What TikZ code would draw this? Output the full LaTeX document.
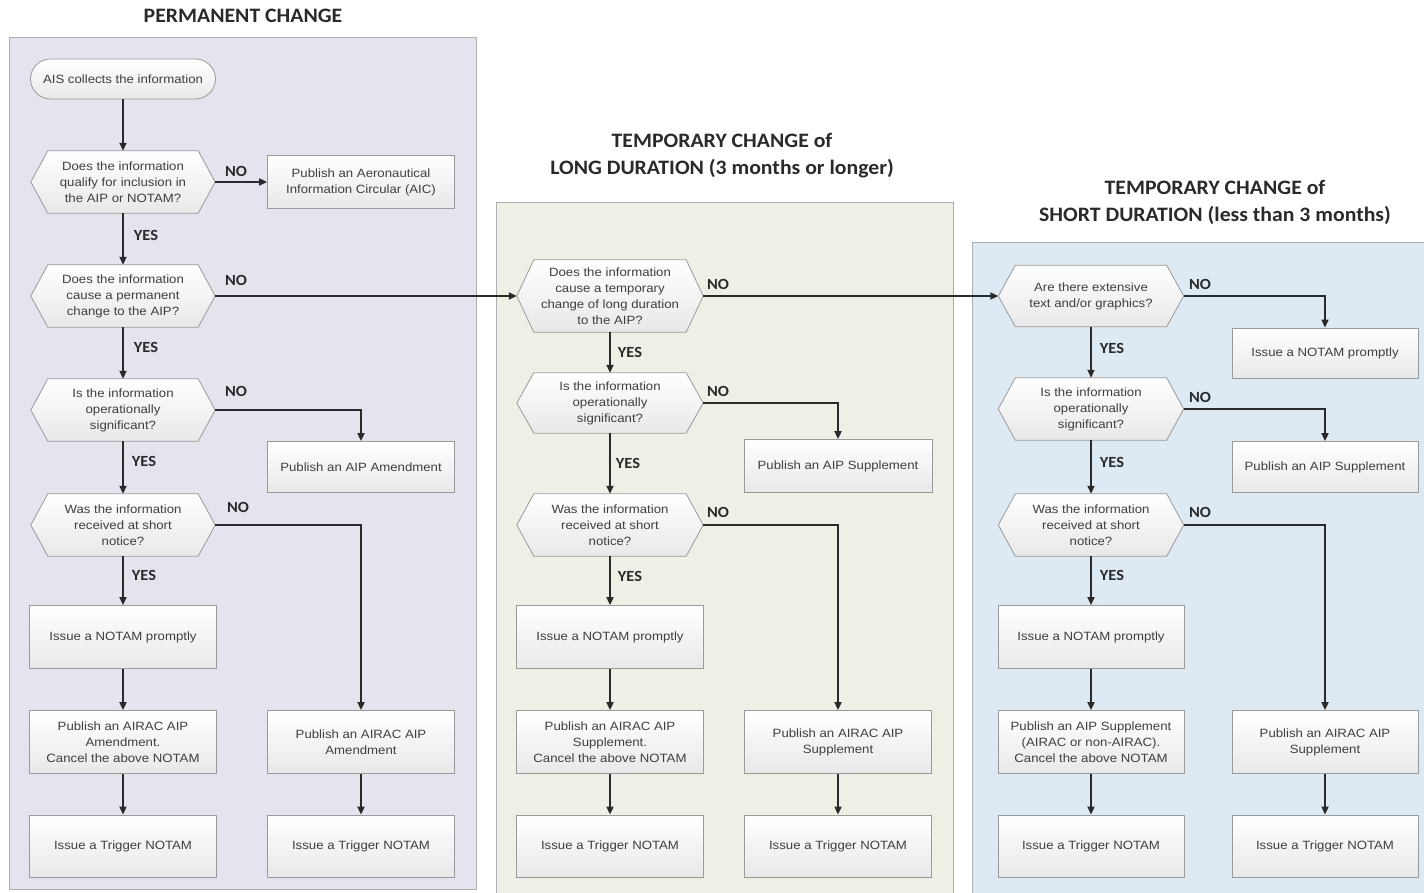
\documentclass[tikz,border=0pt]{standalone}
\usepackage{fontspec}
\setmainfont{Liberation Sans}
\newfontfamily\boxfont[FakeStretch=1.1]{Liberation Sans}
\newfontfamily\titlefont[FakeStretch=1.06]{Carlito}
\usetikzlibrary{arrows.meta}
\pgfdeclarelayer{bg}
\pgfdeclarelayer{mid}
\pgfsetlayers{bg,mid,main}
\definecolor{panelA}{HTML}{E6E2EE}
\definecolor{panelB}{HTML}{EEF0E6}
\definecolor{panelC}{HTML}{DDE9F3}
\definecolor{edge}{HTML}{9A9A9A}
\definecolor{ink}{HTML}{2A2A2A}
\tikzset{
  panel/.style={draw=edge!80, line width=1pt},
  boxnode/.style={rectangle, draw=edge, line width=0.8pt, top color=white, bottom color=black!9,
    align=center, font=\boxfont\fontsize{12}{16}\selectfont, text=ink!90, minimum width=187pt, inner sep=2pt},
  startnode/.style={boxnode, rounded corners=20pt, minimum width=185pt, minimum height=40pt},
  qnode/.style={rectangle, align=center, font=\boxfont\fontsize{12}{16}\selectfont, text=ink!90,
    minimum width=184pt, minimum height=62pt, inner sep=0pt},
  hexshape/.style={draw=edge, line width=0.8pt, top color=white, bottom color=black!9},
  conn/.style={draw=ink, line width=1.8pt, -{Triangle[length=8pt,width=7pt]}},
  lab/.style={font=\titlefont\bfseries\fontsize{15.5}{16}\selectfont, text=ink},
  ttl/.style={font=\titlefont\bfseries\fontsize{20.5}{27}\selectfont, text=ink, align=center}
}
\begin{document}
\begin{tikzpicture}[x=1pt,y=-1pt]
\useasboundingbox (0,0) rectangle (1424,893);
% panels
\begin{pgfonlayer}{bg}
\fill[white] (0,0) rectangle (1424,893);
\draw[panel, fill=panelA] (9,38) rectangle (476,889);
\draw[panel, fill=panelB] (496,203) rectangle (953,900);
\draw[panel, fill=panelC] (972,243) rectangle (1440,900);
\end{pgfonlayer}
% titles
\node[ttl] (t1) at (243,16) {PERMANENT CHANGE};
\node[ttl] (t2) at (722,156) {TEMPORARY CHANGE of\\LONG DURATION (3 months or longer)};
\node[ttl] (t3) at (1215,202) {TEMPORARY CHANGE of\\SHORT DURATION (less than 3 months)};
% left column
\node[startnode] (start) at (123,79) {AIS collects the information};
\node[qnode] (q1) at (123,182) {Does the information\\qualify for inclusion in\\the AIP or NOTAM?};
\node[boxnode, minimum height=53pt] (aic) at (361,182) {Publish an Aeronautical\\Information Circular (AIC)};
\node[qnode] (q2) at (123,296) {Does the information\\cause a permanent\\change to the AIP?};
\node[qnode] (q3) at (123,410) {Is the information\\operationally\\significant?};
\node[boxnode, minimum height=51pt] (amend) at (361,467) {Publish an AIP Amendment};
\node[qnode] (q4) at (123,525) {Was the information\\received at short\\notice?};
\node[boxnode, minimum height=63pt] (notamA) at (123,637) {Issue a NOTAM promptly};
\node[boxnode, minimum height=63pt] (pubA1) at (123,742) {Publish an AIRAC AIP\\Amendment.\\Cancel the above NOTAM};
\node[boxnode, minimum height=63pt] (pubA2) at (361,742) {Publish an AIRAC AIP\\Amendment};
\node[boxnode, minimum height=62pt] (trigA1) at (123,846) {Issue a Trigger NOTAM};
\node[boxnode, minimum height=62pt] (trigA2) at (361,846) {Issue a Trigger NOTAM};
% middle column
\node[qnode, minimum width=186pt, minimum height=72pt] (m1) at (610,296) {Does the information\\cause a temporary\\change of long duration\\to the AIP?};
\node[qnode, minimum width=186pt, minimum height=60pt] (m2) at (610,403) {Is the information\\operationally\\significant?};
\node[boxnode, minimum width=188pt, minimum height=53pt] (supB) at (838,466) {Publish an AIP Supplement};
\node[qnode, minimum width=186pt] (m3) at (610,525) {Was the information\\received at short\\notice?};
\node[boxnode, minimum height=63pt] (notamB) at (610,637) {Issue a NOTAM promptly};
\node[boxnode, minimum height=63pt] (pubB1) at (610,742) {Publish an AIRAC AIP\\Supplement.\\Cancel the above NOTAM};
\node[boxnode, minimum height=63pt] (pubB2) at (838,742) {Publish an AIRAC AIP\\Supplement};
\node[boxnode, minimum height=62pt] (trigB1) at (610,846) {Issue a Trigger NOTAM};
\node[boxnode, minimum height=62pt] (trigB2) at (838,846) {Issue a Trigger NOTAM};
% right column
\node[qnode, minimum width=185pt, minimum height=61pt] (r1) at (1091,296) {Are there extensive\\text and/or graphics?};
\node[boxnode, minimum width=186pt, minimum height=50pt] (notamC1) at (1325,353) {Issue a NOTAM promptly};
\node[qnode, minimum width=185pt] (r2) at (1091,409) {Is the information\\operationally\\significant?};
\node[boxnode, minimum width=186pt, minimum height=51pt] (supC) at (1325,467) {Publish an AIP Supplement};
\node[qnode, minimum width=185pt] (r3) at (1091,525) {Was the information\\received at short\\notice?};
\node[boxnode, minimum width=186pt, minimum height=63pt] (notamC2) at (1091,637) {Issue a NOTAM promptly};
\node[boxnode, minimum width=186pt, minimum height=63pt] (pubC1) at (1091,742) {Publish an AIP Supplement\\(AIRAC or non-AIRAC).\\Cancel the above NOTAM};
\node[boxnode, minimum width=186pt, minimum height=63pt] (pubC2) at (1325,742) {Publish an AIRAC AIP\\Supplement};
\node[boxnode, minimum width=186pt, minimum height=62pt] (trigC1) at (1091,846) {Issue a Trigger NOTAM};
\node[boxnode, minimum width=186pt, minimum height=62pt] (trigC2) at (1325,846) {Issue a Trigger NOTAM};
% hexagon outlines behind the question texts
\begin{pgfonlayer}{mid}
\foreach \n in {q1,q2,q3,q4,m1,m2,m3,r1,r2,r3}
  \path[hexshape] (\n.west) -- ([xshift=17pt]\n.north west) -- ([xshift=-17pt]\n.north east)
     -- (\n.east) -- ([xshift=-17pt]\n.south east) -- ([xshift=17pt]\n.south west) -- cycle;
\end{pgfonlayer}
% connectors left
\draw[conn] (start) -- (q1);
\draw[conn] (q1) -- (aic);
\draw[conn] (q1) -- (q2);
\draw[conn] (q2) -- (q3);
\draw[conn] (q3) -- (q4);
\draw[conn] (q4) -- (notamA);
\draw[conn] (notamA) -- (pubA1);
\draw[conn] (pubA1) -- (trigA1);
\draw[conn] (q2.east) -- (m1.west);
\draw[conn] (q3.east) -| (amend.north);
\draw[conn] (q4.east) -| (pubA2.north);
\draw[conn] (pubA2) -- (trigA2);
% connectors middle
\draw[conn] (m1) -- (m2);
\draw[conn] (m2) -- (m3);
\draw[conn] (m3) -- (notamB);
\draw[conn] (notamB) -- (pubB1);
\draw[conn] (pubB1) -- (trigB1);
\draw[conn] (m1.east) -- (r1.west);
\draw[conn] (m2.east) -| (supB.north);
\draw[conn] (m3.east) -| (pubB2.north);
\draw[conn] (pubB2) -- (trigB2);
% connectors right
\draw[conn] (r1) -- (r2);
\draw[conn] (r2) -- (r3);
\draw[conn] (r3) -- (notamC2);
\draw[conn] (notamC2) -- (pubC1);
\draw[conn] (pubC1) -- (trigC1);
\draw[conn] (r1.east) -| (notamC1.north);
\draw[conn] (r2.east) -| (supC.north);
\draw[conn] (r3.east) -| (pubC2.north);
\draw[conn] (pubC2) -- (trigC2);
% labels
\node[lab] (la1) at (236,171) {NO};
\node[lab] (la2) at (146,235) {YES};
\node[lab] (la3) at (236,280) {NO};
\node[lab] (la4) at (146,347) {YES};
\node[lab] (la5) at (236,391) {NO};
\node[lab] (la6) at (144,461) {YES};
\node[lab] (la7) at (238,507) {NO};
\node[lab] (la8) at (144,575) {YES};
\node[lab] (lb1) at (718,284) {NO};
\node[lab] (lb2) at (630,352) {YES};
\node[lab] (lb3) at (718,391) {NO};
\node[lab] (lb4) at (628,463) {YES};
\node[lab] (lb5) at (718,512) {NO};
\node[lab] (lb6) at (630,576) {YES};
\node[lab] (lc1) at (1200,284) {NO};
\node[lab] (lc2) at (1112,348) {YES};
\node[lab] (lc3) at (1200,397) {NO};
\node[lab] (lc4) at (1112,462) {YES};
\node[lab] (lc5) at (1200,512) {NO};
\node[lab] (lc6) at (1112,575) {YES};
\end{tikzpicture}
\end{document}
